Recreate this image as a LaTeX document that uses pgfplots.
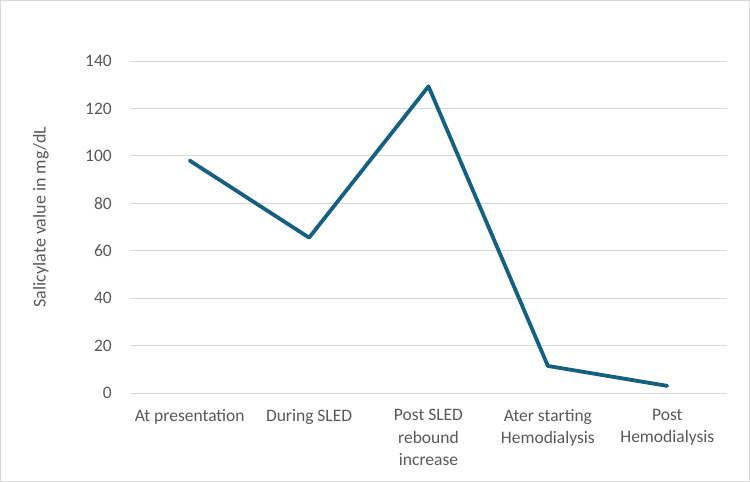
\documentclass[border=0pt]{standalone}
\usepackage{pgfplots}
\pgfplotsset{compat=1.18}
\usepackage{fontspec}
\setmainfont{Carlito}
\definecolor{linec}{HTML}{156082}
\definecolor{gridc}{HTML}{D9D9D9}
\definecolor{txt}{HTML}{595959}
\begin{document}
\begin{tikzpicture}[x=1pt,y=1pt]
\path[draw=gridc, line width=1pt] (0.5,0.5) rectangle (749.5,481.5);
\begin{axis}[
  at={(130pt,89pt)}, anchor=south west,
  scale only axis, width=597pt, height=332pt,
  xmin=-0.5, xmax=4.5, ymin=0, ymax=140,
  ytick={0,20,...,140},
  xtick={0,1,2,3,4},
  xticklabels={At presentation, During SLED, Post SLED\\rebound\\increase, Ater starting\\Hemodialysis, Post\\Hemodialysis},
  axis line style={draw=none},
  major tick length=0pt,
  ymajorgrids, grid style={gridc, line width=0.9pt},
  /pgf/number format/assume math mode=true,
  tick label style={font={\fontsize{17.5}{22.5}\selectfont}, text=txt},
  yticklabel style={inner sep=0pt, anchor=east, xshift=-18pt},
  xticklabel style={align=center, inner sep=0pt, anchor=north, yshift=-16pt},
  ylabel={Salicylate value in mg/dL},
  every axis y label/.style={at={(axis description cs:0,0.5)}, anchor=center, xshift=-89pt, yshift=10pt, rotate=90, font={\fontsize{18}{22}\selectfont}, text=txt},
]
\addplot[linec, line width=3.8pt, line cap=round, line join=round] coordinates {
  (0,98) (1,65.5) (2,129.3) (3,11.4) (4,3.0)
};
\end{axis}
\end{tikzpicture}
\end{document}
